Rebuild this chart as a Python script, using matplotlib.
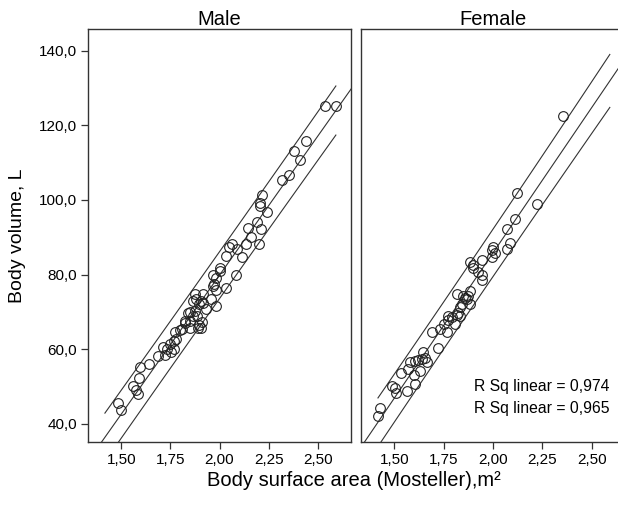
"""
Body volume against body surface area (Mosteller), split by sex,
with a linear fit and 95% prediction lines for each panel.
"""
import matplotlib
matplotlib.use("Agg")
import matplotlib.pyplot as plt
import numpy as np


MALE_BSA = [
    1.485, 1.498, 1.560, 1.573, 1.586, 1.591, 1.594, 1.640, 1.687, 1.713,
    1.725, 1.735, 1.746, 1.751, 1.766, 1.768, 1.775, 1.780, 1.797, 1.809,
    1.822, 1.826, 1.839, 1.848, 1.848, 1.848, 1.865, 1.865, 1.873, 1.873,
    1.882, 1.883, 1.890, 1.898, 1.898, 1.907, 1.909, 1.907, 1.915, 1.915,
    1.932, 1.958, 1.966, 1.966, 1.974, 1.983, 1.983, 1.984, 2.000, 2.005,
    2.034, 2.035, 2.050, 2.066, 2.084, 2.091, 2.116, 2.136, 2.147, 2.162,
    2.192, 2.202, 2.207, 2.207, 2.212, 2.218, 2.243, 2.319, 2.354, 2.380,
    2.410, 2.440, 2.537, 2.592]
MALE_VOLUME = [
    45.7, 43.7, 50.1, 49.2, 47.9, 52.2, 55.3, 56.1, 58.2, 60.7,
    58.6, 60.1, 61.3, 59.4, 60.1, 62.2, 64.6, 62.8, 65.3, 65.5,
    67.5, 67.1, 69.6, 65.8, 67.5, 69.9, 68.9, 72.9, 70.2, 74.7,
    73.4, 68.8, 65.8, 66.6, 72.0, 65.8, 67.2, 72.9, 72.5, 74.7,
    70.7, 73.4, 76.9, 80.0, 77.4, 71.6, 76.0, 79.2, 80.9, 81.8,
    76.5, 84.9, 87.3, 88.1, 80.0, 87.0, 84.6, 88.1, 92.6, 90.2,
    94.0, 88.3, 98.3, 99.3, 92.1, 101.2, 96.9, 105.3, 106.6, 113.0,
    110.8, 115.7, 125.1, 125.3]

FEMALE_BSA = [
    1.417, 1.427, 1.487, 1.505, 1.510, 1.533, 1.563, 1.569, 1.579, 1.598,
    1.605, 1.605, 1.621, 1.630, 1.640, 1.646, 1.655, 1.668, 1.690, 1.722,
    1.731, 1.752, 1.772, 1.772, 1.767, 1.791, 1.807, 1.817, 1.817, 1.823,
    1.833, 1.833, 1.843, 1.848, 1.858, 1.868, 1.873, 1.883, 1.883, 1.883,
    1.898, 1.900, 1.924, 1.944, 1.944, 1.944, 1.995, 1.995, 1.999, 2.010,
    2.071, 2.071, 2.086, 2.111, 2.121, 2.223, 2.354]
FEMALE_VOLUME = [
    42.0, 44.2, 50.1, 49.6, 48.2, 53.7, 48.8, 54.6, 56.5, 53.2,
    50.6, 56.8, 57.2, 54.1, 57.3, 59.3, 57.7, 56.5, 64.5, 60.4,
    65.4, 66.9, 67.8, 68.8, 64.5, 68.6, 66.7, 69.3, 74.7, 69.8,
    68.8, 71.2, 72.0, 74.2, 73.8, 73.4, 74.2, 72.0, 75.6, 83.4,
    81.8, 82.7, 80.7, 79.9, 78.6, 83.9, 84.7, 86.6, 87.4, 85.8,
    86.8, 92.2, 88.4, 94.8, 101.9, 99.0, 122.6]

PANELS = ("Male", "Female")
R_SQ_LABELS = ("R Sq linear = 0,974", "R Sq linear = 0,965")
X_TICKS = [1.50, 1.75, 2.00, 2.25, 2.50]
Y_TICKS = [40, 60, 80, 100, 120, 140]

T_VALUE = 1.99
INK = "#333333"
FONT = "Liberation Sans"


def comma(value: float, places: int) -> str:
    """Formats a number with a decimal comma."""
    return f"{value:.{places}f}".replace(".", ",")


def draw_panel(ax, bsa: list, volume: list, x_span: tuple, title: str) -> None:
    """Draws one scatter panel with its fit and prediction lines."""
    x = np.array(bsa)
    y = np.array(volume)
    slope, intercept = np.polyfit(x, y, 1)
    resid = y - (slope * x + intercept)
    s = np.sqrt(np.sum(resid ** 2) / (len(x) - 2))
    sxx = np.sum((x - x.mean()) ** 2)

    full = np.linspace(1.2, 2.8, 50)
    ax.plot(full, slope * full + intercept, color=INK, lw=0.8)
    span = np.linspace(x_span[0], x_span[1], 50)
    half = T_VALUE * s * np.sqrt(1 + 1 / len(x) + (span - x.mean()) ** 2 / sxx)
    centre = slope * span + intercept
    ax.plot(span, centre + half, color=INK, lw=0.8)
    ax.plot(span, centre - half, color=INK, lw=0.8)

    ax.plot(x, y, "o", ms=7, mfc="none", mec="#222222", mew=0.8)
    ax.set_xlim(1.331, 2.669)
    ax.set_ylim(35.3, 145.8)
    ax.set_xticks(X_TICKS)
    ax.set_xticklabels([comma(v, 2) for v in X_TICKS], family=FONT, fontsize=11)
    ax.tick_params(direction="out", length=5, width=0.9, color=INK, pad=3)
    ax.set_title(title, family=FONT, fontsize=14.5, pad=3)
    for spine in ax.spines.values():
        spine.set_color(INK)
        spine.set_linewidth(1.0)


fig = plt.figure(figsize=(6.18, 5.05), dpi=100)
ax_male = fig.add_axes([88 / 618, 63.5 / 505, 263 / 618, 412.5 / 505])
ax_female = fig.add_axes([361 / 618, 63.5 / 505, 264 / 618, 412.5 / 505])

all_bsa = MALE_BSA + FEMALE_BSA
x_span = (min(all_bsa), max(all_bsa))
draw_panel(ax_male, MALE_BSA, MALE_VOLUME, x_span, PANELS[0])
draw_panel(ax_female, FEMALE_BSA, FEMALE_VOLUME, x_span, PANELS[1])

ax_male.set_yticks(Y_TICKS)
ax_male.set_yticklabels([comma(v, 1) for v in Y_TICKS], family=FONT, fontsize=11)
ax_female.set_yticks([])

fig.text(18 / 618, 1 - 236 / 505, "Body volume, L", rotation=90,
         ha="center", va="center", family=FONT, fontsize=14)
fig.text(354 / 618, 1 - 481 / 505, "Body surface area (Mosteller),m²",
         ha="center", va="center", family=FONT, fontsize=14.5)
fig.text(610 / 618, 1 - 387 / 505, R_SQ_LABELS[0],
         ha="right", va="center", family=FONT, fontsize=11.3)
fig.text(610 / 618, 1 - 408 / 505, R_SQ_LABELS[1],
         ha="right", va="center", family=FONT, fontsize=11.3)

fig.savefig("out.png", dpi=100)
